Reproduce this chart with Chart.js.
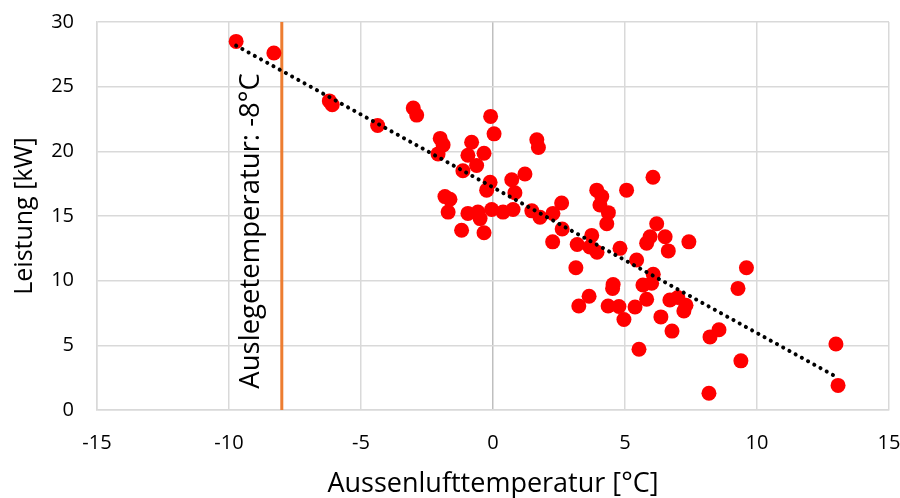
<!DOCTYPE html>
<html>
<head>
<meta charset="utf-8">
<script src="https://cdn.jsdelivr.net/npm/chart.js@4"></script>
<style>
    body { margin: 0; background: #fff; }
    #wrap { width: 900px; height: 498px; }
</style>
</head>
<body>
<div id="wrap"><canvas id="chart" width="900" height="498"></canvas></div>
<script>
// Messwerte: Aussenlufttemperatur [°C] und Leistung [kW]
const tempX = [
    -9.73, -8.3, -6.2, -6.09, -4.37, -3.02, -2.89, -2.0, -1.89, -2.08,
    -1.14, -0.81, -0.95, -0.34, -0.62, -0.09, 0.04, -0.24, -0.11, -1.82,
    -1.63, -1.7, -0.95, -0.57, -0.49, -0.05, 0.38, 0.76, -1.19, -0.34,
    0.71, 0.83, 1.21, 1.66, 1.72, 1.47, 1.78, 2.27, 2.6, 2.62,
    2.26, 3.19, 3.74, 3.67, 3.94, 3.93, 4.12, 4.05, 4.37, 4.31,
    5.06, 6.06, 6.2, 5.95, 5.82, 6.52, 6.64, 7.42, 4.81, 5.44,
    3.14, 6.07, 5.68, 6.01, 4.55, 4.53, 3.64, 3.25, 4.36, 4.77,
    5.38, 4.96, 5.82, 6.7, 7.0, 7.31, 7.23, 6.36, 6.78, 5.53,
    8.22, 8.56, 9.28, 9.6, 9.39, 8.18, 12.99, 13.07
];
const powerY = [
    28.5, 27.6, 23.9, 23.6, 22.0, 23.35, 22.8, 21.0, 20.5, 19.8,
    18.5, 20.7, 19.7, 19.85, 18.9, 22.7, 21.35, 17.0, 17.6, 16.5,
    16.3, 15.3, 15.2, 15.3, 14.8, 15.5, 15.3, 15.5, 13.9, 13.7,
    17.8, 16.8, 18.25, 20.9, 20.3, 15.4, 14.9, 15.2, 16.0, 14.0,
    13.0, 12.8, 13.5, 12.6, 12.2, 17.0, 16.5, 15.85, 15.26, 14.4,
    17.0, 18.0, 14.4, 13.4, 12.9, 13.4, 12.3, 13.0, 12.5, 11.6,
    11.0, 10.5, 9.67, 9.8, 9.7, 9.4, 8.8, 8.04, 8.04, 8.0,
    7.96, 7.0, 8.56, 8.5, 8.7, 8.1, 7.65, 7.2, 6.1, 4.7,
    5.65, 6.2, 9.4, 11.0, 3.8, 1.3, 5.1, 1.9
];

// Auslegetemperatur
const designTemp = -8;
const designLabel = 'Auslegetemperatur: -8°C';

const xTicks = [-15, -10, -5, 0, 5, 10, 15];
const yTicks = [0, 5, 10, 15, 20, 25, 30];

// lineare Trendlinie (kleinste Quadrate, wie Excel)
function linearFit(xs, ys) {
    const n = xs.length;
    let sx = 0, sy = 0, sxx = 0, sxy = 0;
    for (let i = 0; i < n; i++) {
        sx += xs[i]; sy += ys[i];
        sxx += xs[i] * xs[i]; sxy += xs[i] * ys[i];
    }
    const m = (n * sxy - sx * sy) / (n * sxx - sx * sx);
    const b = (sy - m * sx) / n;
    return { m, b };
}

const fit = linearFit(tempX, powerY);
const xMin = Math.min(...tempX);
const xMax = Math.max(...tempX);
const trendPoints = [
    { x: xMin, y: fit.m * xMin + fit.b },
    { x: xMax, y: fit.m * xMax + fit.b }
];

const points = tempX.map((x, i) => ({ x: x, y: powerY[i] }));

const fontFamily = "'Open Sans', 'Noto Sans', sans-serif";

// Beschriftung neben der Auslegetemperatur-Linie
const designLabelPlugin = {
    id: 'designLabel',
    afterDatasetsDraw(chart) {
        const ctx = chart.ctx;
        const xs = chart.scales.x;
        const ys = chart.scales.y;
        const px = xs.getPixelForValue(designTemp) - 31;
        const py = ys.getPixelForValue(13.85);
        ctx.save();
        ctx.translate(px, py);
        ctx.rotate(-Math.PI / 2);
        ctx.font = '27.5px ' + fontFamily;
        ctx.fillStyle = '#000';
        ctx.textAlign = 'center';
        ctx.textBaseline = 'middle';
        ctx.fillText(designLabel, 0, 0);
        ctx.restore();
    }
};

new Chart(document.getElementById('chart'), {
    type: 'scatter',
    data: {
        datasets: [{
            label: 'Trend',
            type: 'line',
            data: trendPoints,
            borderColor: '#000',
            borderWidth: 4,
            borderDash: [0.1, 7],
            borderCapStyle: 'round',
            pointRadius: 0,
            fill: false,
            order: 0
        }, {
            label: 'Leistung',
            data: points,
            backgroundColor: '#FF0000',
            borderWidth: 0,
            pointRadius: 7.5,
            order: 1
        }, {
            label: designLabel,
            type: 'line',
            data: [{ x: designTemp, y: 0 }, { x: designTemp, y: 30 }],
            borderColor: '#ED7D31',
            borderWidth: 3,
            pointRadius: 0,
            fill: false,
            order: 2
        }]
    },
    options: {
        responsive: false,
        animation: false,
        layout: { autoPadding: false, padding: { top: 22, right: 0, left: 0, bottom: 0 } },
        plugins: {
            legend: { display: false },
            tooltip: { enabled: false }
        },
        scales: {
            x: {
                type: 'linear',
                min: -15,
                max: 15,
                afterBuildTicks: (scale) => { scale.ticks = xTicks.map(v => ({ value: v })); },
                afterFit: (scale) => {
                    scale.height = 88;
                    scale.paddingLeft = 0;
                    scale.paddingRight = 11;
                },
                grid: {
                    color: (c) => c.tick && c.tick.value === 0 ? '#BFBFBF' : '#D9D9D9',
                    lineWidth: 1.5,
                    drawTicks: false
                },
                border: { color: '#D9D9D9', width: 1.5 },
                ticks: {
                    padding: 21,
                    color: '#000',
                    font: { family: fontFamily, size: 20 }
                },
                title: {
                    display: true,
                    text: 'Aussenlufttemperatur [°C]',
                    color: '#000',
                    padding: { top: 0, bottom: 0 },
                    font: { family: fontFamily, size: 27, lineHeight: 1 }
                }
            },
            y: {
                type: 'linear',
                min: 0,
                max: 30,
                afterBuildTicks: (scale) => { scale.ticks = yTicks.map(v => ({ value: v })); },
                afterFit: (scale) => {
                    scale.width = 97;
                    scale.paddingTop = 0;
                    scale.paddingBottom = 0;
                },
                grid: {
                    color: '#D9D9D9',
                    lineWidth: 1.5,
                    drawTicks: false
                },
                border: { color: '#D9D9D9', width: 1.5 },
                ticks: {
                    padding: 23,
                    color: '#000',
                    font: { family: fontFamily, size: 20 }
                },
                title: {
                    display: true,
                    text: 'Leistung [kW]',
                    color: '#000',
                    padding: { top: 10, bottom: 0 },
                    font: { family: fontFamily, size: 25 }
                }
            }
        }
    },
    plugins: [designLabelPlugin]
});
</script>
</body>
</html>
